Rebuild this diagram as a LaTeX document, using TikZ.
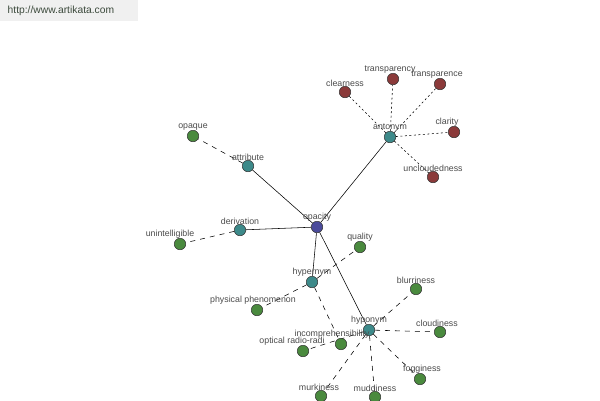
\documentclass[tikz,border=0pt]{standalone}
\usepackage{fontspec}
\setmainfont{Liberation Sans}
\usetikzlibrary{positioning,backgrounds}
\definecolor{hubcol}{HTML}{4B4B9B}
\definecolor{relcol}{HTML}{3D8A8A}
\definecolor{antcol}{HTML}{8B3A3A}
\definecolor{wordcol}{HTML}{4A8A3E}
\definecolor{txtcol}{HTML}{4A4A4A}
\definecolor{sitecol}{HTML}{3C4A3C}
\tikzset{
    dot/.style={circle,draw=black!80,line width=0.5pt,minimum size=11.5pt,inner sep=0pt},
    hub/.style={dot,fill=hubcol},
    rel/.style={dot,fill=relcol},
    ant/.style={dot,fill=antcol},
    word/.style={dot,fill=wordcol},
    lbl/.style={text=txtcol,font=\fontsize{8.8}{9}\selectfont,inner sep=0.5pt},
    every label/.style={lbl},
    label distance=-1pt,
    strong/.style={draw=black,line width=0.55pt},
    weak/.style={draw=black,line width=0.55pt,dash pattern=on 5pt off 5pt},
    anto/.style={draw=black,line width=0.55pt,dash pattern=on 2pt off 2.5pt},
  }
\begin{document}
\begin{tikzpicture}[x=1pt,y=-1pt]
    \useasboundingbox (0,0) rectangle (600,400);
    % site banner
    \fill[gray!12] (0,0) rectangle (138,21);
    \node[lbl,anchor=west,text=sitecol,font=\fontsize{10.3}{11}\selectfont] (site) at (7,11) {http://www.artikata.com};
    % create the nodes
    \node[hub,label=above:opacity] (opacity) at (317,227) {};
    \node[rel,label=above:antonym] (antonym) at (390,137) {};
    \node[rel,label=above:attribute] (attribute) at (248,166) {};
    \node[rel,label=above:derivation] (derivation) at (240,230) {};
    \node[rel,label=above:hypernym] (hypernym) at (312,282) {};
    \node[rel,label=above:hyponym] (hyponym) at (369,330) {};
    % antonyms
    \node[ant,label=above:clearness] (clearness) at (345,92) {};
    \node[ant,label={[xshift=-3pt]above:transparency}] (transparency) at (393,79) {};
    \node[ant,label={[xshift=-3pt]above:transparence}] (transparence) at (440,84) {};
    \node[ant,label={[xshift=-7pt]above:clarity}] (clarity) at (454,132) {};
    \node[ant,label=above:uncloudedness] (unclouded) at (433,177) {};
    % other words
    \node[word,label=above:opaque] (opaque) at (193,136) {};
    \node[word,label={[xshift=-10pt]above:unintelligible}] (unintell) at (180,244) {};
    \node[word,label=above:quality] (quality) at (360,247) {};
    \node[word,label={[xshift=-4pt]above:physical phenomenon}] (physical) at (257,310) {};
    \node[word,label=above:blurriness] (blurriness) at (416,289) {};
    \node[word,label={[xshift=-3pt]above:cloudiness}] (cloudiness) at (440,332) {};
    \node[word,label={[xshift=2pt]above:fogginess}] (fogginess) at (420,379) {};
    \node[word,label=above:muddiness] (muddiness) at (375,397) {};
    \node[word,label={[xshift=-2pt]above:murkiness}] (murkiness) at (321,396) {};
    \node[word,label={[xshift=-11pt]above:optical radio-radi}] (optical) at (303,351) {};
    \node[word,label={[xshift=-9pt]above:incomprehensibility}] (incompr) at (341,344) {};
    % connect them
    \begin{scope}[on background layer]
        \foreach \n in {antonym,attribute,derivation,hypernym,hyponym}
            \draw[strong] (opacity) -- (\n);
        \foreach \n in {clearness,transparency,transparence,clarity,unclouded}
            \draw[anto] (antonym) -- (\n);
        \draw[weak] (attribute) -- (opaque);
        \draw[weak] (derivation) -- (unintell);
        \foreach \n in {quality,physical,incompr}
            \draw[weak] (hypernym) -- (\n);
        \foreach \n in {blurriness,cloudiness,fogginess,muddiness,murkiness,optical}
            \draw[weak] (hyponym) -- (\n);
    \end{scope}
\end{tikzpicture}
\end{document}
